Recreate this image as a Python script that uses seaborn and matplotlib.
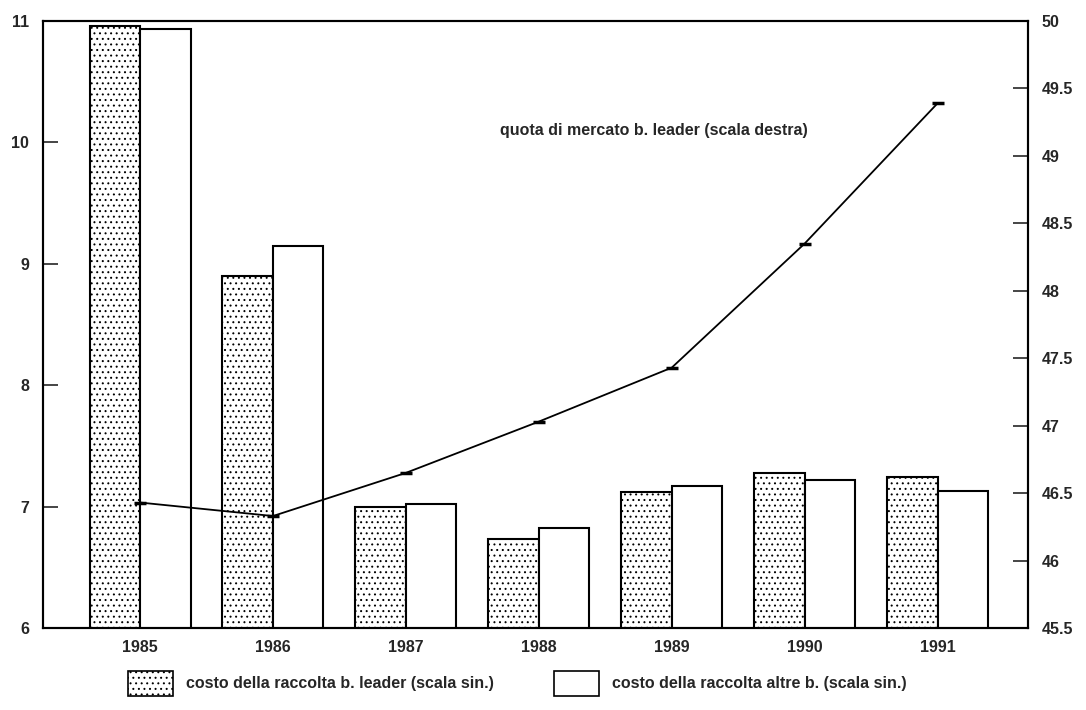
import numpy as np
import pandas as pd
import matplotlib
matplotlib.use("Agg")
import matplotlib.pyplot as plt
from matplotlib.patches import Patch
from matplotlib.ticker import FuncFormatter
import seaborn as sns

years = ["1985", "1986", "1987", "1988", "1989", "1990", "1991"]
costo_leader = [10.96, 8.90, 7.00, 6.73, 7.12, 7.28, 7.24]
costo_altre = [10.93, 9.15, 7.02, 6.82, 7.17, 7.22, 7.13]
quota_leader = [46.43, 46.33, 46.65, 47.03, 47.43, 48.35, 49.39]

label_leader = "costo della raccolta b. leader (scala sin.)"
label_altre = "costo della raccolta altre b. (scala sin.)"
label_quota = "quota di mercato b. leader (scala destra)"


def build_frame():
    df = pd.DataFrame({
        "anno": years * 2,
        "costo": costo_leader + costo_altre,
        "serie": [label_leader] * len(years) + [label_altre] * len(years),
    })
    return df


def plot_chart(df):
    sns.set_style("white")
    plt.rcParams["font.family"] = ["Liberation Sans", "DejaVu Sans"]
    plt.rcParams["font.weight"] = "bold"
    plt.rcParams["hatch.linewidth"] = 0.7

    fig = plt.figure(figsize=(10.86, 7.10), dpi=100)
    ax = fig.add_axes([0.0396, 0.1155, 0.907, 0.855])

    sns.barplot(
        data=df, x="anno", y="costo", hue="serie",
        palette=["white", "white"], width=0.76, gap=0,
        edgecolor="black", linewidth=1.5, legend=False, ax=ax
    )

    # dotted fill for the leader bars
    n = len(years)
    for bar in ax.patches[:n]:
        bar.set_hatch("...")

    ax.set_ylim(6, 11)
    ax.set_xlim(-0.73, n - 0.32)
    ax.set_yticks([6, 7, 8, 9, 10, 11])
    ax.set_xlabel("")
    ax.set_ylabel("")
    ax.tick_params(axis="y", direction="in", length=11, width=1.2,
                   pad=10, labelsize=11.5)
    ax.tick_params(axis="x", length=0, pad=9, labelsize=11.5)

    ax2 = ax.twinx()
    sns.pointplot(
        x=years, y=quota_leader, color="black", markers="_",
        errorbar=None, ax=ax2, markersize=9, markeredgewidth=2.5,
        linewidth=1.3
    )
    ax2.set_xlim(-0.73, n - 0.32)
    ax2.set_ylim(45.5, 50)
    ax2.set_yticks(np.arange(45.5, 50.01, 0.5))
    ax2.yaxis.set_major_formatter(FuncFormatter(lambda v, pos: f"{v:g}"))
    ax2.tick_params(axis="y", direction="in", length=11, width=1.2,
                    pad=10, labelsize=11.5)
    ax2.set_ylabel("")

    for a in (ax, ax2):
        for s in a.spines.values():
            s.set_visible(True)
            s.set_linewidth(1.5)
            s.set_color("black")

    ax2.text(2.71, 49.19, label_quota, fontsize=11.5, fontweight="bold",
             va="center", ha="left")

    handles = [
        Patch(facecolor="white", edgecolor="black", hatch="...", linewidth=1.2),
        Patch(facecolor="white", edgecolor="black", linewidth=1.2),
    ]
    fig.legend(
        handles, [label_leader, label_altre], loc="lower left",
        bbox_to_anchor=(0.105, 0.0), ncol=2, frameon=False,
        fontsize=11.5, handlelength=2.8, handleheight=2.0,
        handletextpad=0.8, columnspacing=3.8
    )

    plt.savefig("out.png", dpi=100)
    plt.close(fig)


def main():
    df = build_frame()
    plot_chart(df)


if __name__ == "__main__":
    main()
